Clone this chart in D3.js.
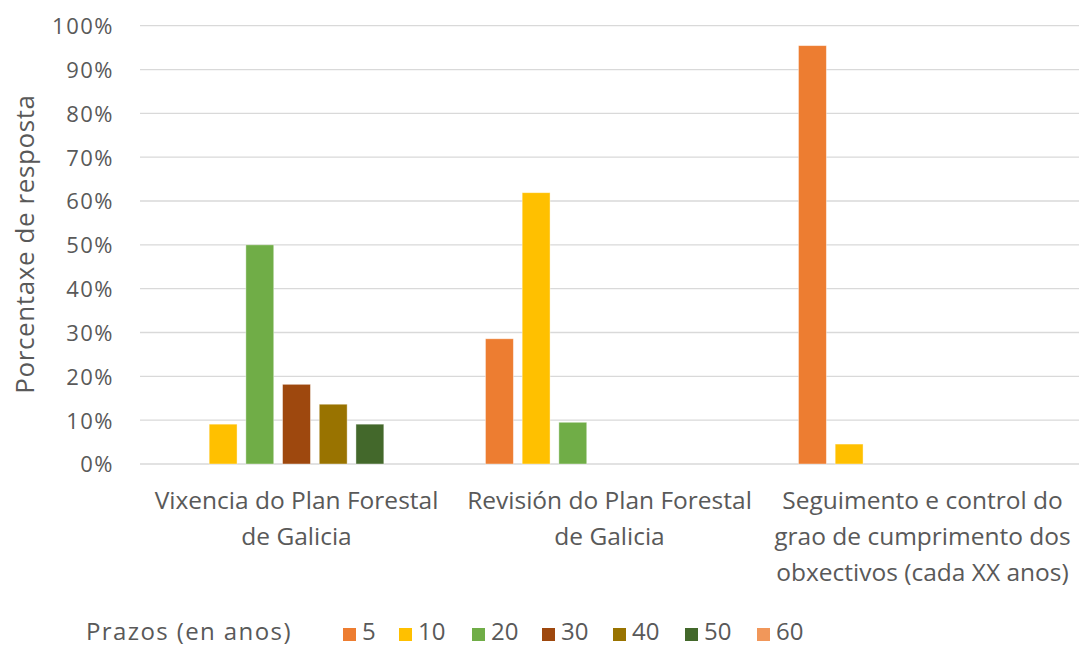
<!DOCTYPE html>
<html><head><meta charset="utf-8">
<script src="https://cdn.jsdelivr.net/npm/d3@7"></script>
<style>body{margin:0;background:#fff}svg{display:block}text{font-family:"Open Sans","Lato",sans-serif;fill:#595959}</style>
</head><body><svg id="c" width="1079" height="648"></svg>
<script>
const categories = [
  ["Vixencia do Plan Forestal","de Galicia"],
  ["Revisión do Plan Forestal","de Galicia"],
  ["Seguimento e control do","grao de cumprimento dos","obxectivos (cada XX anos)"]
];
const seriesNames = ["5","10","20","30","40","50","60"];
const seriesColors = ["#ED7D31","#FFC000","#70AD47","#9E480E","#997300","#43682B","#F1975A"];
// values in % per series, for each category
const values5  = [0, 28.57, 95.45];
const values10 = [9.09, 61.90, 4.55];
const values20 = [50.0, 9.52, 0];
const values30 = [18.18, 0, 0];
const values40 = [13.64, 0, 0];
const values50 = [9.09, 0, 0];
const values60 = [0, 0, 0];
const yTicks = [0,10,20,30,40,50,60,70,80,90,100];
const yTitle = "Porcentaxe de resposta";
const legendTitle = "Prazos (en anos)";

(function(){
const allVals = [values5,values10,values20,values30,values40,values50,values60];
const svg = d3.select("#c");
const pl = 140, pr = 1079, pt = 25.7, pb = 464;
const catIdx = categories.map((d,i)=>i);
const x0 = d3.scaleBand().domain(catIdx).range([pl,pr]).paddingInner(0).paddingOuter(0);
const x1 = d3.scaleBand().domain(seriesNames).range([0,x0.bandwidth()]).paddingInner(0.24).paddingOuter(0.885);
const y = d3.scaleLinear().domain([0,100]).range([pb,pt]);

svg.append("g").selectAll("line").data(yTicks).join("line")
  .attr("x1",pl).attr("x2",pr).attr("y1",d=>y(d)).attr("y2",d=>y(d))
  .attr("stroke","#d9d9d9").attr("stroke-width",1.3);

const yAxis = d3.axisLeft(y).tickValues(yTicks).tickFormat(d=>d+"%").tickSize(0).tickPadding(0);
const ga = svg.append("g").attr("transform",`translate(114,0)`).call(yAxis);
ga.select(".domain").remove();
ga.attr("font-family",null).attr("font-size",null);
ga.selectAll("text").style("font-size","22px").style("letter-spacing","1.5px").attr("fill","#595959").attr("dy","0.36em");

const bars = [];
seriesNames.forEach((s,si)=>catIdx.forEach(ci=>{ if(allVals[si][ci]>0) bars.push({s,si,ci,v:allVals[si][ci]}); }));
svg.append("g").selectAll("rect").data(bars).join("rect")
  .attr("x",d=>x0(d.ci)+x1(d.s)).attr("width",x1.bandwidth())
  .attr("y",d=>y(d.v)).attr("height",d=>y(0)-y(d.v))
  .attr("fill",d=>seriesColors[d.si]).attr("stroke","#fff").attr("stroke-opacity",0.5).attr("stroke-width",0.8);

const cl = svg.append("g");
categories.forEach((lines,ci)=>{
  const cx = x0(ci)+x0.bandwidth()/2;
  const t = cl.append("text").attr("text-anchor","middle").style("font-size","24.5px");
  lines.forEach((ln,li)=>t.append("tspan").attr("x",cx).attr("y",509+li*36).text(ln));
});

svg.append("text").attr("transform","translate(34,244) rotate(-90)").attr("text-anchor","middle")
  .style("font-size","26px").style("letter-spacing","0.6px").text(yTitle);

const lg = svg.append("g");
lg.append("text").attr("x",86).attr("y",640).style("font-size","24px").style("letter-spacing","1.4px").text(legendTitle);
const legX = [343,399,472,542,613,685,757];
seriesNames.forEach((s,i)=>{
  lg.append("rect").attr("x",legX[i]).attr("y",628).attr("width",13).attr("height",13).attr("fill",seriesColors[i]);
  lg.append("text").attr("x",legX[i]+19).attr("y",640).style("font-size","24px").text(s);
});
})();
</script></body></html>
